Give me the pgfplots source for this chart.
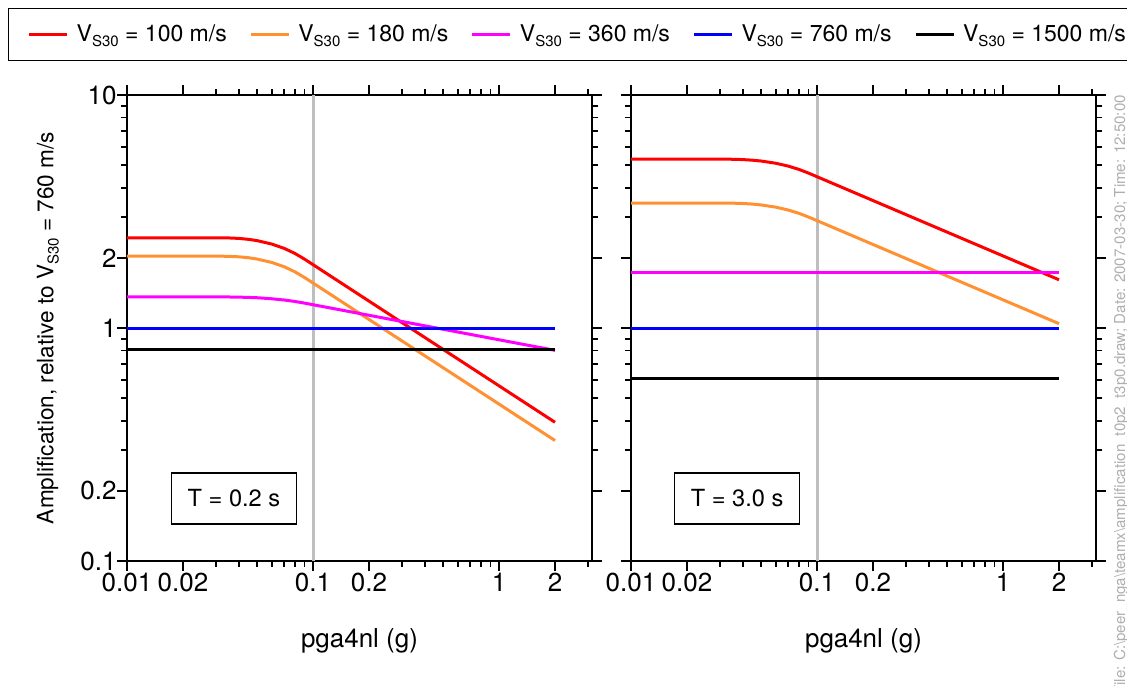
\documentclass[border=0pt]{standalone}
\usepackage{pgfplots}
\usepackage{pgfplotstable}
\pgfplotsset{compat=1.18}
\usepackage{fontspec}
\setmainfont{TeX Gyre Heros}
\definecolor{cred}{RGB}{255,0,0}
\definecolor{corange}{RGB}{255,145,50}
\definecolor{cmag}{RGB}{255,0,255}
\definecolor{cblue}{RGB}{0,0,255}
\definecolor{cgray}{RGB}{190,190,190}
\definecolor{ctext}{RGB}{175,175,175}
\newcommand{\vs}{V\raisebox{-0.45ex}{\fontsize{7.5}{8}\selectfont S30}}
\newcommand{\tfont}{\fontsize{13}{15}\selectfont}
\newcommand{\legfont}{\fontsize{11.5}{13}\selectfont}
\newcommand{\yfont}{\fontsize{11.3}{13}\selectfont}
\newcommand{\bfont}{\fontsize{11.8}{13}\selectfont}
\newcommand{\lent}[1]{\hspace{4pt}\makebox[86.3pt][l]{#1}}

% T = 0.2 s
\pgfplotstableread{
x      r      o      m
0.01   2.440  2.035  1.360
0.03   2.440  2.035  1.360
0.035  2.436  2.031  1.359
0.04   2.424  2.021  1.357
0.045  2.402  2.003  1.353
0.05   2.372  1.978  1.349
0.06   2.293  1.912  1.335
0.07   2.197  1.832  1.319
0.08   2.089  1.742  1.300
0.09   1.976  1.648  1.279
0.1    1.871  1.560  1.259
2      0.394  0.329  0.802
}\tabA
% T = 3.0 s
\pgfplotstableread{
x      r      o      m
0.01   5.306  3.438  1.735
0.03   5.306  3.438  1.735
0.035  5.300  3.435  1.735
0.04   5.282  3.423  1.735
0.045  5.251  3.403  1.735
0.05   5.209  3.375  1.735
0.06   5.095  3.302  1.735
0.07   4.954  3.210  1.735
0.08   4.794  3.106  1.735
0.09   4.623  2.995  1.735
0.1    4.460  2.890  1.735
2      1.611  1.044  1.735
}\tabB

\begin{document}
\begin{tikzpicture}
\useasboundingbox (0pt,0pt) rectangle (563.5pt,-342.5pt);

\begin{axis}[
  xmode=log, ymode=log,
  scale only axis, width=232.5pt, height=233pt,
  xmin=0.01, xmax=3.1623, ymin=0.1, ymax=10,
  xtick={0.01,0.02,0.1,0.2,1,2},
  xticklabels={0.01,0.02,0.1,0.2,1,2},
  minor xtick={0.03,0.04,0.05,0.06,0.07,0.08,0.09,0.3,0.4,0.5,0.6,0.7,0.8,0.9,3},
  ytick={0.1,0.2,1,2,10},
  minor ytick={0.3,0.4,0.5,0.6,0.7,0.8,0.9,3,4,5,6,7,8,9},
  tick align=outside,
  major tick length=5pt, minor tick length=3pt,
  axis line style={line width=0.9pt},
  every tick/.append style={black, line width=0.9pt},
  tick label style={font=\tfont},
  xticklabel style={inner ysep=1pt},
  yticklabel style={inner xsep=0pt},
  xlabel={pga4nl (g)},
  xlabel style={at={(axis description cs:0.5,-0.172)}, anchor=center, font=\tfont},
  at={(63.5pt,-280.5pt)}, anchor=south west,
  yticklabels={0.1,0.2,1,2,10},
  ylabel={Amplification, relative to \vs{} = 760 m/s},
  ylabel style={at={(axis description cs:-0.17,0.5)}, anchor=center, font=\yfont},
  legend columns=5,
  legend cell align=left,
  legend style={at={(axis description cs:-0.2559,1.1298)}, anchor=west,
    draw=black, line width=0.75pt, font=\legfont,
    inner xsep=9.5pt, inner ysep=8pt, nodes={inner sep=0pt}, column sep=0pt},
  legend image code/.code={\draw[#1] (0pt,0pt) -- (19pt,0pt);},
]
\addplot[cgray, line width=1.5pt, forget plot] coordinates {(0.1,0.1) (0.1,10)};
\addplot[cred, line width=1.5pt] table[x=x,y=r] {\tabA};
\addlegendentry{\lent{\vs{} = 100 m/s}}
\addplot[corange, line width=1.5pt] table[x=x,y=o] {\tabA};
\addlegendentry{\lent{\vs{} = 180 m/s}}
\addplot[cmag, line width=1.5pt] table[x=x,y=m] {\tabA};
\addlegendentry{\lent{\vs{} = 360 m/s}}
\addplot[cblue, line width=1.5pt] coordinates {(0.01,1) (2,1)};
\addlegendentry{\lent{\vs{} = 760 m/s}}
\addplot[black, line width=1.5pt] coordinates {(0.01,0.810) (2,0.810)};
\addlegendentry{\lent{\vs{} = 1500 m/s}}
\node[draw, line width=0.75pt, minimum width=62.5pt, minimum height=25.5pt, inner sep=0pt, font=\bfont] at (axis cs:0.0376,0.1854) {T = 0.2 s};
\end{axis}

\begin{axis}[
  xmode=log, ymode=log,
  scale only axis, width=232.5pt, height=233pt,
  xmin=0.01, xmax=3.1623, ymin=0.1, ymax=10,
  xtick={0.01,0.02,0.1,0.2,1,2},
  xticklabels={0.01,0.02,0.1,0.2,1,2},
  minor xtick={0.03,0.04,0.05,0.06,0.07,0.08,0.09,0.3,0.4,0.5,0.6,0.7,0.8,0.9,3},
  ytick={0.1,0.2,1,2,10},
  minor ytick={0.3,0.4,0.5,0.6,0.7,0.8,0.9,3,4,5,6,7,8,9},
  tick align=outside,
  major tick length=5pt, minor tick length=3pt,
  axis line style={line width=0.9pt},
  every tick/.append style={black, line width=0.9pt},
  tick label style={font=\tfont},
  xticklabel style={inner ysep=1pt},
  xlabel={pga4nl (g)},
  xlabel style={at={(axis description cs:0.5,-0.172)}, anchor=center, font=\tfont},
  at={(315.5pt,-280.5pt)}, anchor=south west,
  yticklabels={,,,,},
]
\addplot[cgray, line width=1.5pt, forget plot] coordinates {(0.1,0.1) (0.1,10)};
\addplot[cred, line width=1.5pt] table[x=x,y=r] {\tabB};
\addplot[corange, line width=1.5pt] table[x=x,y=o] {\tabB};
\addplot[cmag, line width=1.5pt] table[x=x,y=m] {\tabB};
\addplot[cblue, line width=1.5pt] coordinates {(0.01,1) (2,1)};
\addplot[black, line width=1.5pt] coordinates {(0.01,0.606) (2,0.606)};
\node[draw, line width=0.75pt, minimum width=62.5pt, minimum height=25.5pt, inner sep=0pt, font=\bfont] at (axis cs:0.0372,0.1854) {T = 3.0 s};
\end{axis}

\node[rotate=90, anchor=base east, text=ctext, font=\fontsize{7.55}{8}\selectfont] at (562.5pt,-44pt) {File: C:\textbackslash peer\_nga\textbackslash teamx\textbackslash amplification\_t0p2\_t3p0.draw; Date: 2007-03-30; Time: 12:50:00};
\end{tikzpicture}
\end{document}
